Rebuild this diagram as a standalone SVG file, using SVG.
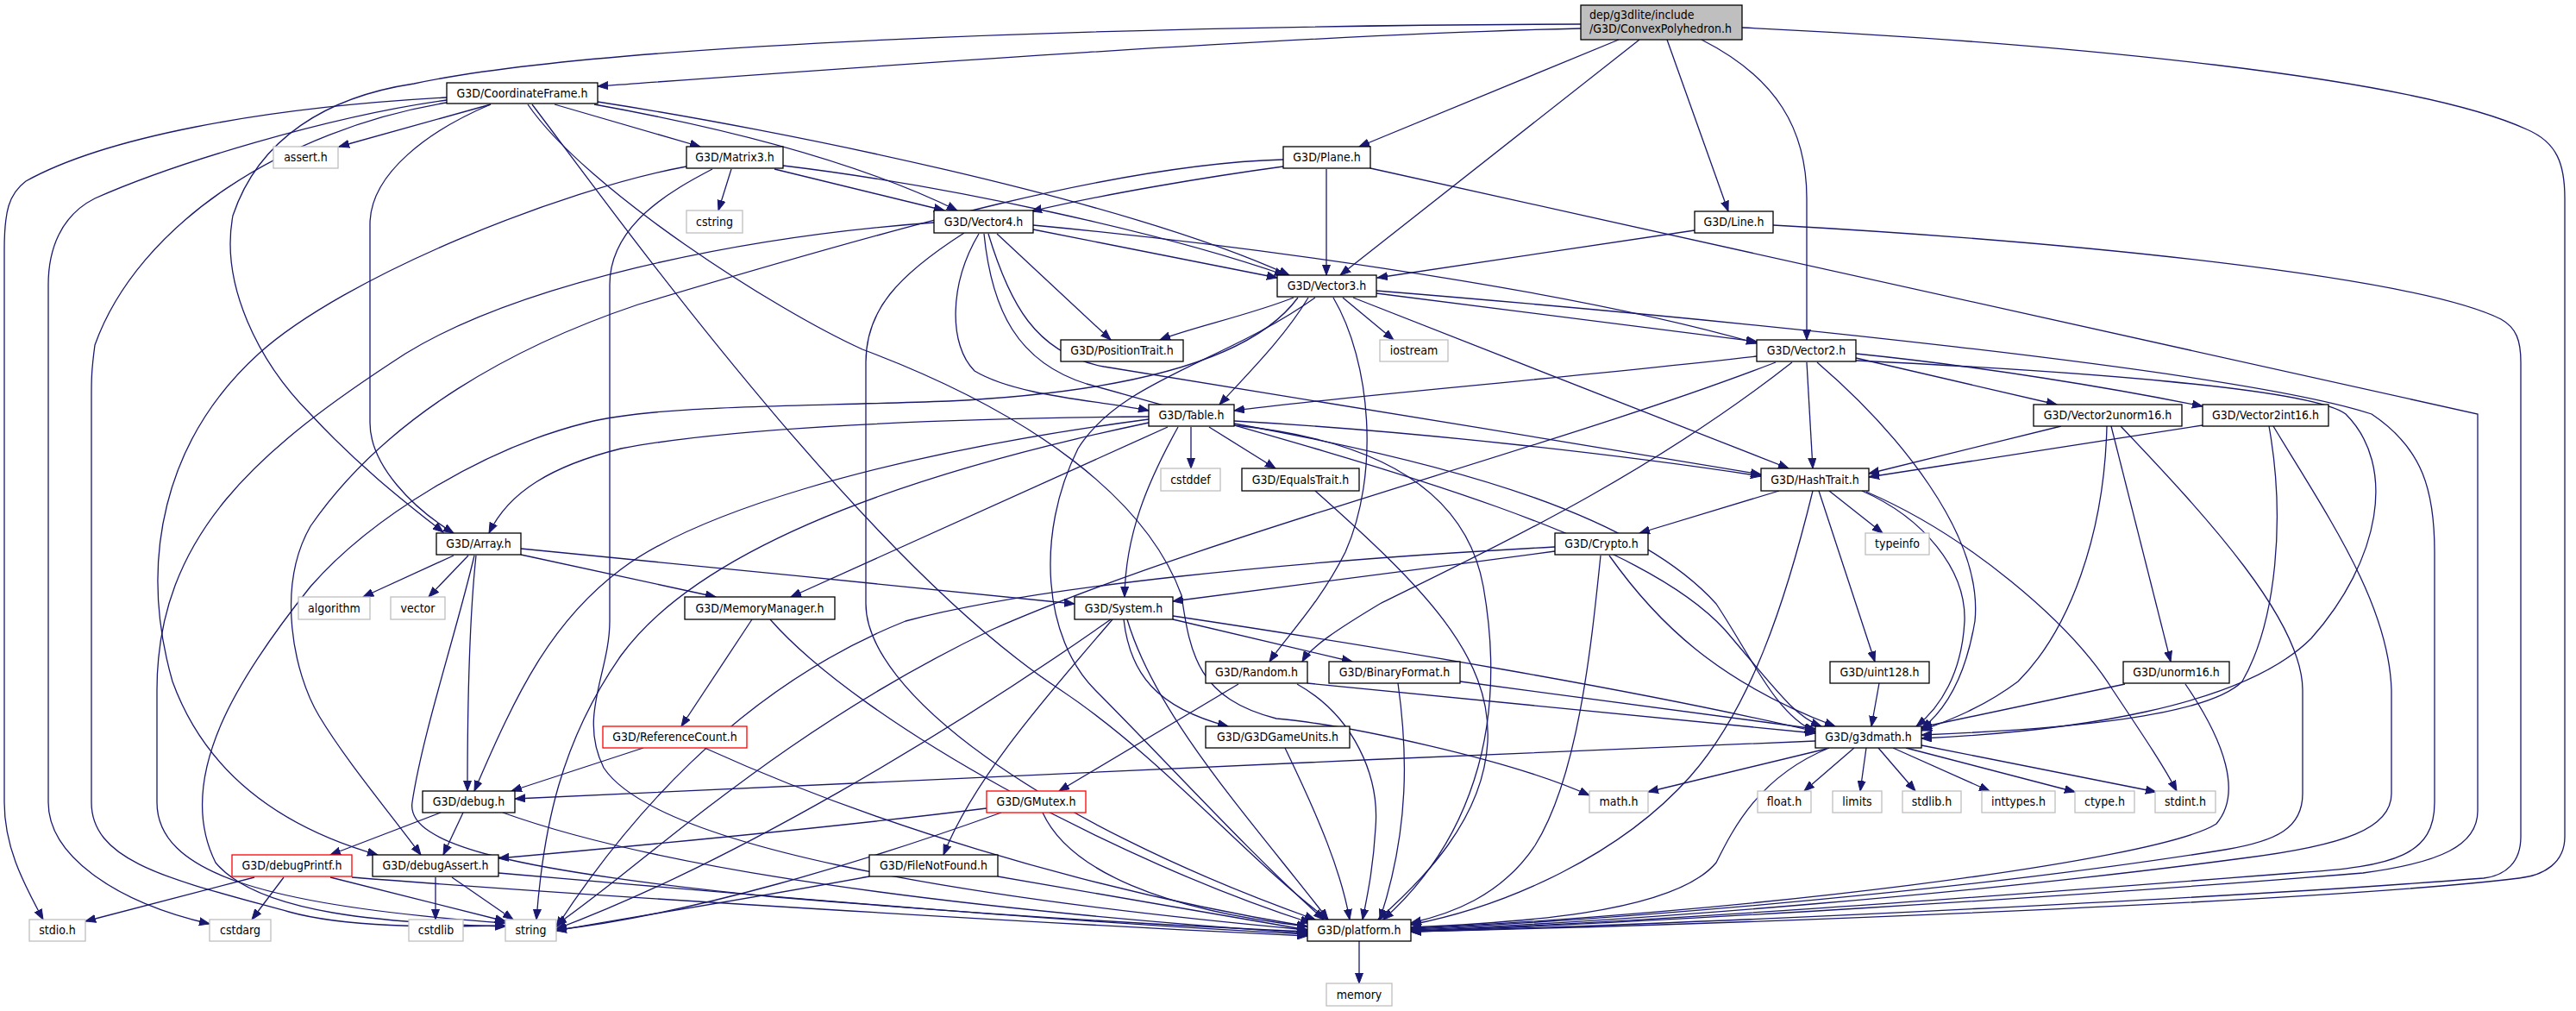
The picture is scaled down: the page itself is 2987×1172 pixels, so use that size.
<svg xmlns="http://www.w3.org/2000/svg" width="2987" height="1172" viewBox="0 0 2987 1172">
<style>
.n rect{fill:#fff;stroke:#000;stroke-width:1.3}
.g rect{stroke:#bfbfbf}
.r rect{stroke:#ff0000}
.root rect{fill:#bfbfbf}
text{font-family:"DejaVu Sans Condensed","DejaVu Sans",sans-serif;font-size:14px;text-anchor:middle;fill:#000}
.e path{fill:none;stroke:#191970;stroke-width:1.3;marker-end:url(#a)}
</style>
<defs>
<marker id="a" markerUnits="userSpaceOnUse" markerWidth="13" markerHeight="10" refX="12" refY="5" orient="auto"><path d="M0,0.5 L12,5 L0,9.5 z" fill="#191970" stroke="#191970" stroke-width="1"/></marker>
</defs>
<rect width="2987" height="1172" fill="#fff"/>
<g class="e" id="edges">
<path d="M1833,33 C1500,40 900,85 693,100"/>
<path d="M1833,28 C1300,30 700,50 480,97 C380,112 300,160 270,250 C255,330 300,420 360,480 C420,545 480,590 514,617"/>
<path d="M1877,46 L1576,170"/>
<path d="M1901,46 L1554,319"/>
<path d="M1933,46 L2004,245"/>
<path d="M1973,46 C2060,90 2095,150 2095,230 L2095,394"/>
<path d="M2020,32 C2400,50 2800,90 2930,150 C2965,165 2974,190 2974,230 L2974,970 C2974,1000 2950,1015 2921,1018 C2700,1045 2000,1072 1636,1080"/>
<path d="M569,121 L393,170"/>
<path d="M518,113 C300,125 120,160 30,210 C10,225 5,245 5,290 L5,930 C5,980 25,1020 50,1066"/>
<path d="M518,116 C380,135 200,190 110,230 C70,250 56,290 56,330 L56,930 C56,990 130,1045 243,1071"/>
<path d="M518,119 C330,150 160,260 110,400 C106,430 106,440 106,460 L106,930 C106,1000 200,1020 335,1057 C400,1075 500,1075 586,1073"/>
<path d="M569,121 C500,150 429,200 429,260 L429,490 C429,540 480,590 526,618"/>
<path d="M612,121 C680,220 900,360 1000,405 C1200,480 1330,580 1370,690 C1380,760 1390,810 1480,833 C1560,840 1750,880 1843,922"/>
<path d="M617,121 C700,230 1000,650 1230,800 C1350,880 1450,1000 1540,1066"/>
<path d="M643,121 L812,170"/>
<path d="M689,121 C850,150 1000,190 1110,244"/>
<path d="M693,118 C900,150 1300,230 1495,319"/>
<path d="M848,196 L833,244"/>
<path d="M898,196 L1095,244"/>
<path d="M908,192 C1100,215 1350,270 1490,319"/>
<path d="M796,193 C650,220 400,320 300,410 C190,510 160,650 200,790 C240,900 330,960 438,991"/>
<path d="M826,196 C780,220 707,260 707,330 L707,720 C707,780 670,830 700,890 C760,980 1100,1040 1516,1078"/>
<path d="M1538,196 L1538,319"/>
<path d="M1488,193 C1400,205 1280,225 1196,245"/>
<path d="M1488,185 C1300,190 1050,260 740,353 C600,400 450,480 360,610 C320,680 340,780 370,830 C400,880 450,940 488,991"/>
<path d="M1589,195 L2873,480 L2873,940 C2873,980 2830,1000 2740,1012 C2400,1040 1900,1070 1636,1080"/>
<path d="M1965,267 L1597,322"/>
<path d="M2056,261 C2400,280 2800,320 2900,370 C2918,380 2923,395 2923,420 L2923,970 C2923,1000 2905,1015 2880,1018 C2600,1040 2000,1070 1636,1080"/>
<path d="M1083,258 C850,275 600,330 470,410 C300,520 182,620 182,800 L182,930 C182,1010 300,1050 586,1070"/>
<path d="M1118,270 C1040,320 1004,360 1004,420 L1004,700 C1004,800 1200,950 1525,1066"/>
<path d="M1135,271 C1100,330 1100,400 1130,430 C1180,460 1280,465 1332,476"/>
<path d="M1146,271 C1170,350 1200,410 1280,425 C1500,460 1800,510 2042,550"/>
<path d="M1141,271 C1150,360 1180,420 1260,445 C1600,540 1900,620 2000,730 C2060,800 2080,830 2112,842"/>
<path d="M1156,271 L1288,394"/>
<path d="M1198,266 L1481,322"/>
<path d="M1198,261 C1400,280 1800,330 2037,398"/>
<path d="M1596,340 L2037,396"/>
<path d="M1596,337 C2000,370 2600,430 2750,480 C2810,520 2823,570 2823,640 L2823,930 C2823,990 2780,1005 2660,1012 C2300,1040 1900,1070 1636,1079"/>
<path d="M1557,345 L1616,394"/>
<path d="M1569,345 L2074,543"/>
<path d="M1500,345 C1450,365 1380,380 1345,394"/>
<path d="M1517,345 C1490,390 1450,430 1414,469"/>
<path d="M1546,345 C1590,420 1600,550 1560,640 C1530,700 1490,740 1472,767"/>
<path d="M1505,345 C1450,420 1300,455 1100,465 C900,472 760,470 680,490 C560,520 430,600 360,680 C280,780 200,900 250,1000 C300,1060 450,1070 586,1074"/>
<path d="M1525,345 C1420,420 1300,440 1250,520 C1200,620 1210,740 1270,800 C1350,880 1450,990 1535,1066"/>
<path d="M2037,413 C1800,440 1550,460 1431,476"/>
<path d="M2059,420 C1800,520 1400,620 1150,730 C900,850 750,1000 645,1072"/>
<path d="M2078,420 C1900,560 1700,650 1600,700 C1550,730 1520,750 1510,767"/>
<path d="M2095,420 L2102,543"/>
<path d="M2107,420 C2200,500 2300,620 2290,720 C2280,780 2260,820 2228,845"/>
<path d="M2152,415 L2385,469"/>
<path d="M2152,410 C2300,425 2450,450 2554,471"/>
<path d="M2152,418 C2400,430 2680,450 2720,480 C2780,540 2760,650 2680,740 C2600,820 2400,848 2228,856"/>
<path d="M1332,483 C1100,485 850,495 720,520 C640,540 590,570 567,618"/>
<path d="M1332,486 C1000,530 800,600 720,660 C640,720 600,800 550,917"/>
<path d="M1332,490 C1000,560 800,650 720,760 C650,860 630,960 622,1066"/>
<path d="M1354,495 L917,692"/>
<path d="M1366,495 C1330,560 1305,620 1304,692"/>
<path d="M1381,495 L1381,543"/>
<path d="M1402,495 L1479,543"/>
<path d="M1431,488 C1650,500 1900,530 2042,552"/>
<path d="M1431,491 C1700,540 1900,600 1990,700 C2030,760 2060,830 2105,848"/>
<path d="M1431,493 C1600,510 1700,570 1720,680 C1750,850 1700,980 1604,1066"/>
<path d="M1525,569 C1650,680 1730,760 1725,860 C1720,950 1650,1020 1598,1066"/>
<path d="M2063,569 L1901,618"/>
<path d="M2102,569 C2070,700 2030,820 1960,900 C1880,990 1750,1050 1636,1072"/>
<path d="M2109,569 L2174,767"/>
<path d="M2121,569 L2183,618"/>
<path d="M2159,569 C2230,600 2280,660 2278,720 C2275,780 2250,820 2222,842"/>
<path d="M2164,570 C2280,620 2400,720 2450,800 C2490,860 2510,890 2524,917"/>
<path d="M1803,639 C1650,660 1480,680 1360,697"/>
<path d="M1803,634 C1500,650 1200,680 1050,720 C850,800 720,960 645,1075"/>
<path d="M1856,644 C1845,750 1830,900 1780,980 C1740,1040 1680,1060 1636,1070"/>
<path d="M1866,644 C1920,720 1990,790 2128,842"/>
<path d="M526,644 L421,692"/>
<path d="M543,644 L497,692"/>
<path d="M550,644 C530,730 490,850 478,930 C470,980 600,1010 900,1040 C1200,1065 1400,1075 1516,1080"/>
<path d="M552,644 C546,700 542,780 542,917"/>
<path d="M604,636 C800,655 1050,680 1246,700"/>
<path d="M604,643 L830,692"/>
<path d="M872,718 L790,842"/>
<path d="M893,718 C1000,840 1300,1000 1520,1070"/>
<path d="M1288,718 C1100,850 850,1000 645,1077"/>
<path d="M1290,718 C1220,800 1130,900 1094,991"/>
<path d="M1303,718 C1310,780 1340,820 1424,842"/>
<path d="M1307,718 C1340,830 1450,950 1540,1066"/>
<path d="M1360,714 C1600,750 1900,800 2105,848"/>
<path d="M1360,718 L1568,767"/>
<path d="M1436,793 L1228,917"/>
<path d="M1516,792 L2105,850"/>
<path d="M1504,793 C1570,830 1600,900 1595,960 C1592,1010 1585,1040 1580,1066"/>
<path d="M1621,792 C1632,870 1635,960 1600,1066"/>
<path d="M1693,790 L2105,845"/>
<path d="M2179,792 L2170,842"/>
<path d="M2464,793 L2228,843"/>
<path d="M2534,793 C2580,860 2600,920 2570,955 C2500,1000 2000,1060 1636,1076"/>
<path d="M2390,494 L2167,549"/>
<path d="M2443,494 C2440,620 2400,730 2340,790 C2300,820 2260,835 2228,847"/>
<path d="M2448,494 L2517,767"/>
<path d="M2459,494 C2560,600 2670,720 2670,800 L2670,920 C2670,960 2640,975 2580,985 C2300,1030 1900,1065 1636,1077"/>
<path d="M2554,493 L2167,553"/>
<path d="M2631,494 C2650,600 2640,720 2600,790 C2560,830 2400,845 2228,852"/>
<path d="M2636,494 C2700,600 2770,700 2773,800 L2773,920 C2773,960 2720,980 2600,995 C2300,1035 1900,1068 1636,1078"/>
<path d="M746,867 L593,917"/>
<path d="M817,867 C1000,950 1250,1030 1516,1074"/>
<path d="M1490,867 C1530,950 1555,1010 1565,1066"/>
<path d="M2105,859 C1600,880 1000,905 597,926"/>
<path d="M2118,868 L1911,918"/>
<path d="M2121,867 C2040,900 2010,960 1990,1000 C1940,1060 1750,1070 1636,1075"/>
<path d="M2150,867 L2092,917"/>
<path d="M2164,867 L2157,917"/>
<path d="M2178,867 L2221,917"/>
<path d="M2195,867 L2307,917"/>
<path d="M2210,867 L2406,918"/>
<path d="M2228,864 L2500,918"/>
<path d="M511,942 L383,991"/>
<path d="M537,942 L514,991"/>
<path d="M583,942 C800,1020 1200,1060 1516,1082"/>
<path d="M295,1017 L99,1068"/>
<path d="M329,1017 L292,1066"/>
<path d="M383,1017 L586,1068"/>
<path d="M408,1017 C700,1040 1200,1070 1516,1085"/>
<path d="M505,1017 L505,1066"/>
<path d="M524,1017 L595,1066"/>
<path d="M578,1012 C900,1040 1250,1070 1516,1083"/>
<path d="M1144,937 C1000,955 800,975 578,995"/>
<path d="M1161,942 C1000,1000 800,1060 645,1078"/>
<path d="M1209,942 C1240,1010 1350,1055 1516,1074"/>
<path d="M1008,1016 C850,1045 720,1065 645,1079"/>
<path d="M1157,1016 L1516,1078"/>
<path d="M1576,1091 L1576,1140"/>
</g>
<g id="root" class="n root"><rect x="1833" y="6" width="187" height="40"/><text x="1843" y="22" style="text-anchor:start">dep/g3dlite/include</text><text x="1843" y="38" style="text-anchor:start">/G3D/ConvexPolyhedron.h</text></g>
<g id="CoordinateFrame" class="n"><rect x="518" y="96" width="175" height="24"/><text x="605.5" y="113">G3D/CoordinateFrame.h</text></g>
<g id="assert" class="n g"><rect x="317" y="170" width="75" height="25"/><text x="354.5" y="187">assert.h</text></g>
<g id="Matrix3" class="n"><rect x="796" y="170" width="112" height="25"/><text x="852" y="187">G3D/Matrix3.h</text></g>
<g id="Plane" class="n"><rect x="1488" y="170" width="101" height="25"/><text x="1538.5" y="187">G3D/Plane.h</text></g>
<g id="cstring" class="n g"><rect x="796" y="244" width="65" height="26"/><text x="828.5" y="262">cstring</text></g>
<g id="Vector4" class="n"><rect x="1083" y="244" width="115" height="26"/><text x="1140.5" y="262">G3D/Vector4.h</text></g>
<g id="Line" class="n"><rect x="1965" y="245" width="91" height="25"/><text x="2010.5" y="262">G3D/Line.h</text></g>
<g id="Vector3" class="n"><rect x="1481" y="319" width="115" height="25"/><text x="1538.5" y="336">G3D/Vector3.h</text></g>
<g id="PositionTrait" class="n"><rect x="1230" y="394" width="142" height="25"/><text x="1301" y="411">G3D/PositionTrait.h</text></g>
<g id="iostream" class="n g"><rect x="1600" y="394" width="79" height="25"/><text x="1639.5" y="411">iostream</text></g>
<g id="Vector2" class="n"><rect x="2037" y="394" width="115" height="25"/><text x="2094.5" y="411">G3D/Vector2.h</text></g>
<g id="Table" class="n"><rect x="1332" y="469" width="99" height="25"/><text x="1381.5" y="486">G3D/Table.h</text></g>
<g id="Vector2unorm16" class="n"><rect x="2358" y="469" width="172" height="25"/><text x="2444" y="486">G3D/Vector2unorm16.h</text></g>
<g id="Vector2int16" class="n"><rect x="2554" y="469" width="146" height="25"/><text x="2627" y="486">G3D/Vector2int16.h</text></g>
<g id="cstddef" class="n g"><rect x="1346" y="543" width="69" height="26"/><text x="1380.5" y="561">cstddef</text></g>
<g id="EqualsTrait" class="n"><rect x="1440" y="543" width="136" height="26"/><text x="1508" y="561">G3D/EqualsTrait.h</text></g>
<g id="HashTrait" class="n"><rect x="2042" y="543" width="125" height="26"/><text x="2104.5" y="561">G3D/HashTrait.h</text></g>
<g id="Array" class="n"><rect x="506" y="618" width="98" height="25"/><text x="555" y="635">G3D/Array.h</text></g>
<g id="Crypto" class="n"><rect x="1803" y="618" width="108" height="25"/><text x="1857" y="635">G3D/Crypto.h</text></g>
<g id="typeinfo" class="n g"><rect x="2163" y="618" width="74" height="25"/><text x="2200" y="635">typeinfo</text></g>
<g id="algorithm" class="n g"><rect x="346" y="692" width="83" height="26"/><text x="387.5" y="710">algorithm</text></g>
<g id="vector" class="n g"><rect x="453" y="692" width="63" height="26"/><text x="484.5" y="710">vector</text></g>
<g id="MemoryManager" class="n"><rect x="794" y="692" width="174" height="26"/><text x="881" y="710">G3D/MemoryManager.h</text></g>
<g id="System" class="n"><rect x="1246" y="692" width="114" height="26"/><text x="1303" y="710">G3D/System.h</text></g>
<g id="Random" class="n"><rect x="1398" y="767" width="118" height="25"/><text x="1457" y="784">G3D/Random.h</text></g>
<g id="BinaryFormat" class="n"><rect x="1541" y="767" width="152" height="25"/><text x="1617" y="784">G3D/BinaryFormat.h</text></g>
<g id="uint128" class="n"><rect x="2122" y="767" width="115" height="25"/><text x="2179.5" y="784">G3D/uint128.h</text></g>
<g id="unorm16" class="n"><rect x="2462" y="767" width="123" height="25"/><text x="2523.5" y="784">G3D/unorm16.h</text></g>
<g id="ReferenceCount" class="n r"><rect x="699" y="842" width="167" height="25"/><text x="782.5" y="859">G3D/ReferenceCount.h</text></g>
<g id="G3DGameUnits" class="n"><rect x="1398" y="842" width="167" height="25"/><text x="1481.5" y="859">G3D/G3DGameUnits.h</text></g>
<g id="g3dmath" class="n"><rect x="2105" y="842" width="123" height="25"/><text x="2166.5" y="859">G3D/g3dmath.h</text></g>
<g id="debug" class="n"><rect x="490" y="917" width="107" height="25"/><text x="543.5" y="934">G3D/debug.h</text></g>
<g id="GMutex" class="n r"><rect x="1144" y="917" width="115" height="25"/><text x="1201.5" y="934">G3D/GMutex.h</text></g>
<g id="math" class="n g"><rect x="1843" y="917" width="68" height="25"/><text x="1877" y="934">math.h</text></g>
<g id="float" class="n g"><rect x="2038" y="917" width="62" height="25"/><text x="2069" y="934">float.h</text></g>
<g id="limits" class="n g"><rect x="2125" y="917" width="57" height="25"/><text x="2153.5" y="934">limits</text></g>
<g id="stdlib" class="n g"><rect x="2206" y="917" width="68" height="25"/><text x="2240" y="934">stdlib.h</text></g>
<g id="inttypes" class="n g"><rect x="2298" y="917" width="85" height="25"/><text x="2340.5" y="934">inttypes.h</text></g>
<g id="ctype" class="n g"><rect x="2406" y="917" width="69" height="25"/><text x="2440.5" y="934">ctype.h</text></g>
<g id="stdint" class="n g"><rect x="2499" y="917" width="70" height="25"/><text x="2534" y="934">stdint.h</text></g>
<g id="debugPrintf" class="n r"><rect x="269" y="991" width="139" height="25"/><text x="338.5" y="1008">G3D/debugPrintf.h</text></g>
<g id="debugAssert" class="n"><rect x="432" y="991" width="146" height="25"/><text x="505" y="1008">G3D/debugAssert.h</text></g>
<g id="FileNotFound" class="n"><rect x="1008" y="991" width="149" height="25"/><text x="1082.5" y="1008">G3D/FileNotFound.h</text></g>
<g id="stdio" class="n g"><rect x="34" y="1066" width="65" height="25"/><text x="66.5" y="1083">stdio.h</text></g>
<g id="cstdarg" class="n g"><rect x="243" y="1066" width="71" height="25"/><text x="278.5" y="1083">cstdarg</text></g>
<g id="cstdlib" class="n g"><rect x="474" y="1066" width="63" height="25"/><text x="505.5" y="1083">cstdlib</text></g>
<g id="string" class="n g"><rect x="586" y="1066" width="59" height="25"/><text x="615.5" y="1083">string</text></g>
<g id="platform" class="n"><rect x="1516" y="1066" width="120" height="25"/><text x="1576" y="1083">G3D/platform.h</text></g>
<g id="memory" class="n g"><rect x="1538" y="1140" width="76" height="26"/><text x="1576" y="1158">memory</text></g>
</svg>
